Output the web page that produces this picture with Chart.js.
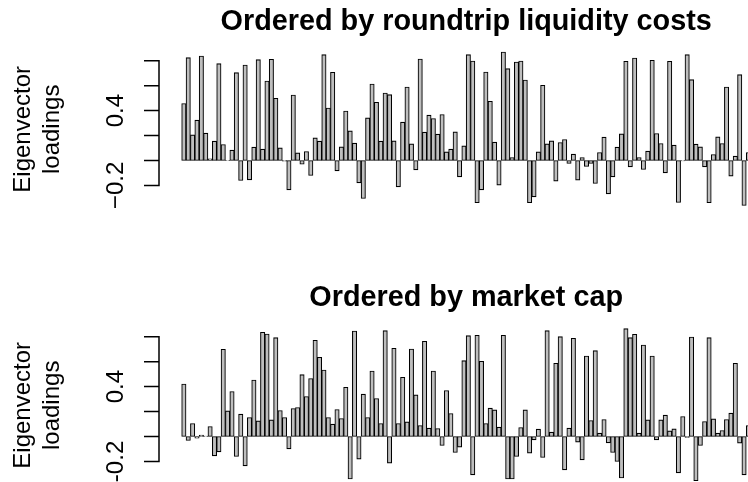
<!DOCTYPE html>
<html><head><meta charset="utf-8">
<script src="https://cdn.jsdelivr.net/npm/chart.js@4/dist/chart.umd.min.js"></script>
<style>
html,body{margin:0;padding:0;background:#fff;overflow:hidden;width:748px;height:482px;position:relative;}
canvas.panel{position:absolute;left:0;}
</style></head><body>
<canvas id="c1" class="panel" width="800" height="276" style="top:0px"></canvas>
<canvas id="c2" class="panel" width="800" height="276" style="top:276px"></canvas>
<script>
// Eigenvector loadings, assets ordered by roundtrip liquidity costs
const liquidityOrder = [
 0.456, 0.824, 0.205, 0.323, 0.837, 0.219, 0.013, 0.155, 0.776, 0.128,
 0.002, 0.083, 0.704, -0.16, 0.765, -0.155, 0.107, 0.808, 0.091, 0.637,
 0.811, 0.499, 0.101, -0.005, -0.235, 0.525, 0.061, -0.03, 0.072, -0.12,
 0.181, 0.155, 0.848, 0.421, 0.707, -0.083, 0.109, 0.397, 0.237, 0.139,
 -0.179, -0.304, 0.341, 0.613, 0.467, 0.155, 0.541, 0.528, 0.157, -0.211,
 0.307, 0.589, 0.133, -0.075, 0.813, 0.227, 0.363, 0.336, 0.211, 0.368,
 0.069, 0.091, 0.229, -0.131, 0.117, 0.848, 0.797, -0.339, -0.235, 0.709,
 0.475, 0.147, -0.197, 0.869, 0.736, 0.024, 0.789, 0.797, 0.645, -0.339,
 -0.291, 0.069, 0.603, 0.133, 0.157, -0.165, 0.144, 0.168, -0.024, 0.051,
 -0.157, 0.024, -0.048, -0.024, -0.184, 0.064, 0.187, -0.267, -0.131, 0.107,
 0.213, 0.795, -0.051, 0.821, 0.024, -0.072, 0.075, 0.803, 0.216, 0.136,
 -0.099, 0.795, 0.123, -0.336, -0.003, 0.848, 0.648, 0.131, 0.109, -0.051,
 -0.339, 0.048, 0.189, 0.136, 0.589, -0.125, 0.035, 0.688, -0.36, 0.064
];
// Eigenvector loadings, assets ordered by market cap
const marketCapOrder = [
 0.421, -0.032, 0.104, -0.013, 0.011, 0.003, 0.08, -0.155, -0.123, 0.699,
 0.205, 0.36, -0.16, 0.179, -0.235, 0.152, 0.453, 0.125, 0.835, 0.821,
 0.133, 0.792, 0.208, 0.152, -0.099, 0.224, 0.232, 0.496, 0.32, 0.464,
 0.771, 0.635, 0.533, 0.152, 0.099, 0.216, 0.144, 0.395, -0.341, 0.845,
 -0.181, 0.339, 0.152, 0.525, 0.304, 0.104, 0.848, -0.213, 0.707, 0.104,
 0.475, 0.117, 0.701, 0.333, 0.088, 0.763, 0.067, 0.525, 0.064, -0.072,
 0.368, 0.184, -0.128, -0.085, 0.608, 0.808, -0.307, 0.811, 0.603, 0.104,
 0.227, 0.213, 0.075, 0.811, -0.341, -0.341, -0.16, 0.072, 0.213, -0.133,
 -0.027, 0.059, -0.168, 0.848, 0.035, 0.587, 0.8, -0.267, 0.067, 0.787,
 -0.045, -0.187, 0.645, 0.128, 0.688, 0.027, 0.136, -0.051, -0.128, -0.2,
 -0.333, 0.864, 0.792, 0.819, 0.027, 0.733, 0.133, 0.645, -0.027, 0.133,
 0.171, 0.045, 0.061, -0.291, 0.16, -0.008, 0.797, -0.355, -0.072, 0.12,
 0.792, 0.141, 0.027, 0.048, 0.136, 0.187, 0.587, -0.053, -0.307, 0.088
];
const titles = ["Ordered by roundtrip liquidity costs", "Ordered by market cap"];
const yTicks = [-0.2, 0, 0.2, 0.4, 0.6, 0.8];
const yTickLabels1 = [["−0.2", -0.2], ["0.4", 0.4]];
const yTickLabels2 = [["-0.2", -0.2], ["0.4", 0.4]];
const yLabelLines = ["Eigenvector", "loadings"];

const FONT = "'Liberation Sans', Arial, Helvetica, sans-serif";
Chart.defaults.font.family = FONT;
Chart.defaults.color = '#000';

const rAxis = {
  id: 'rAxis',
  afterDraw(chart, args, opts) {
    const ctx = chart.ctx, ys = chart.scales.y;
    const x0 = Math.round(chart.chartArea.left);
    ctx.save();
    ctx.strokeStyle = '#000';
    ctx.lineWidth = 1.5;
    ctx.lineCap = 'butt';
    const yTop = ys.getPixelForValue(yTicks[yTicks.length - 1]);
    const yBot = ys.getPixelForValue(yTicks[0]);
    ctx.beginPath();
    ctx.moveTo(x0, yBot + 0.75); ctx.lineTo(x0, yTop - 0.75);
    yTicks.forEach(v => { const y = ys.getPixelForValue(v); ctx.moveTo(x0, y); ctx.lineTo(x0 - 15, y); });
    ctx.stroke();
    ctx.fillStyle = '#000';
    ctx.font = '24px ' + FONT;
    ctx.textAlign = 'center';
    ctx.textBaseline = 'middle';
    opts.labels.forEach(([txt, v]) => {
      const y = ys.getPixelForValue(v);
      ctx.save(); ctx.translate(x0 - 43, y); ctx.rotate(-Math.PI / 2); ctx.fillText(txt, 0, 0); ctx.restore();
    });
    const yc = (chart.chartArea.top + chart.chartArea.bottom) / 2;
    yLabelLines.forEach((txt, i) => {
      ctx.save(); ctx.translate(23 + i * 29, yc); ctx.rotate(-Math.PI / 2); ctx.fillText(txt, 0, 0); ctx.restore();
    });
    ctx.restore();
  }
};

function makePanel(id, values, title, labels) {
  const n = values.length;
  const span = 1.2 * n - 0.2;
  return new Chart(document.getElementById(id), {
    type: 'bar',
    data: {
      datasets: [{
        data: values.map((v, i) => ({ x: 0.7 + 1.2 * i, y: v })),
        backgroundColor: '#bebebe',
        borderColor: '#000',
        borderWidth: 1.1,
        borderSkipped: false,
        barThickness: 'flex',
        barPercentage: 1,
        categoryPercentage: 1
      }]
    },
    options: {
      responsive: false,
      animation: false,
      events: [],
      layout: { padding: { left: 159.3, right: 27, top: 0, bottom: 63.1 } },
      scales: {
        x: { type: 'linear', offset: false, min: 0.2 - 0.04 * span, max: 1.2 * n + 0.04 * span, display: false },
        y: { min: -0.42, max: 0.92, display: false }
      },
      plugins: {
        legend: { display: false },
        tooltip: { enabled: false },
        title: {
          display: true, text: title, color: '#000',
          font: { size: 28.8, weight: 'bold', family: FONT, lineHeight: 1.2 },
          padding: { top: 5.2, bottom: 5.94 }
        },
        rAxis: { labels: labels }
      }
    },
    plugins: [rAxis]
  });
}
makePanel('c1', liquidityOrder, titles[0], yTickLabels1);
makePanel('c2', marketCapOrder, titles[1], yTickLabels2);
</script>
</body></html>
